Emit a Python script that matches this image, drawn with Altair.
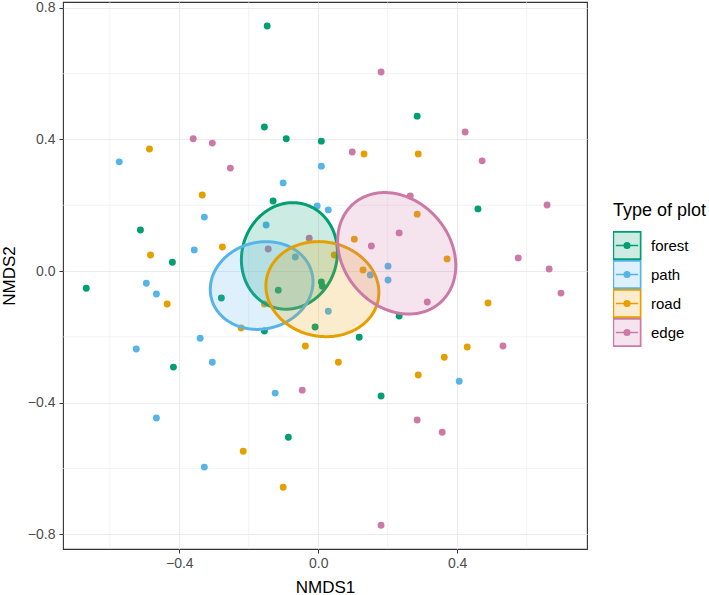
import numpy as np
import pandas as pd
import altair as alt

# Plot types, their colours and the pale key fills (colour at 20% over white)
groups = ["forest", "path", "road", "edge"]
colors = ["#009E73", "#56B4E9", "#E69F00", "#CC79A7"]
key_fills = ["#CCECE3", "#DDF0FB", "#FAECCC", "#F5E4ED"]

# NMDS site scores per plot type
forest_x = [-0.147, -0.155, -0.092, 0.009, 0.285, 0.460, -0.130, -0.512, -0.420, -0.668,
            -0.417, -0.086, 0.181, 0.118, 0.233, -0.155, -0.115, -0.279, -0.009, 0.009, 0.012]
forest_y = [0.745, 0.438, 0.402, 0.395, 0.471, 0.189, 0.213, 0.125, 0.027, -0.052,
            -0.292, -0.505, -0.380, -0.201, -0.137, -0.182, -0.058, -0.082, -0.170, -0.033, -0.046]

path_x = [-0.573, 0.009, -0.101, -0.003, 0.029, -0.328, -0.150, -0.357, -0.066, 0.201, 0.201,
          0.150, 0.029, -0.495, -0.466, -0.340, -0.524, -0.305, -0.124, 0.406, -0.466, -0.328]
path_y = [0.332, 0.319, 0.268, 0.198, 0.186, 0.164, 0.140, 0.064, 0.043, 0.015, -0.027,
          -0.012, -0.122, -0.037, -0.070, -0.204, -0.237, -0.277, -0.371, -0.335, -0.447, -0.596]

road_x = [-0.486, 0.132, 0.288, -0.334, 0.285, 0.104, -0.276, 0.046, 0.371, -0.483, 0.129,
          -0.435, -0.155, 0.489, -0.222, -0.037, 0.429, 0.363, 0.058, 0.288, -0.216, -0.101]
road_y = [0.371, 0.356, 0.356, 0.231, 0.173, 0.097, 0.073, 0.049, 0.037, 0.049, 0.003,
          -0.100, -0.100, -0.097, -0.173, -0.228, -0.231, -0.262, -0.277, -0.316, -0.548, -0.657]

edge_x = [0.181, 0.423, 0.472, -0.360, -0.305, -0.253, 0.098, 0.265, 0.659, 0.233, -0.026,
          0.153, -0.144, 0.576, 0.665, 0.699, 0.314, 0.532, -0.046, 0.285, 0.357, 0.181]
edge_y = [0.605, 0.423, 0.335, 0.402, 0.389, 0.313, 0.362, 0.228, 0.201, 0.116, 0.100,
          0.076, 0.067, 0.040, 0.006, -0.067, -0.094, -0.228, -0.362, -0.453, -0.490, -0.773]

# Group ellipses: centre, semi-axes and rotation (degrees)
ell_cx = [-0.083, -0.163, 0.012, 0.226]
ell_cy = [0.046, -0.044, -0.055, 0.054]
ell_a = [0.163, 0.150, 0.164, 0.196]
ell_b = [0.137, 0.131, 0.143, 0.157]
ell_deg = [78, 20, -15, -56]

# Axis ticks and minor grid positions
x_ticks = [-0.4, 0.0, 0.4]
y_ticks = [-0.8, -0.4, 0.0, 0.4, 0.8]
x_minor = [-0.6, -0.2, 0.2, 0.6]
y_minor = [-0.6, -0.2, 0.2, 0.6]
x_domain = [-0.735, 0.774]
y_domain = [-0.845, 0.818]

pts = pd.concat([
    pd.DataFrame({"NMDS1": xs, "NMDS2": ys, "type": g})
    for g, xs, ys in [("forest", forest_x, forest_y), ("path", path_x, path_y),
                      ("road", road_x, road_y), ("edge", edge_x, edge_y)]
], ignore_index=True)


def ellipse_band(cx, cy, a, b, deg, n=240):
    """Upper and lower boundary of a rotated ellipse, sampled along x."""
    t = np.deg2rad(deg)
    A = np.cos(t) ** 2 / a ** 2 + np.sin(t) ** 2 / b ** 2
    B = 2 * np.cos(t) * np.sin(t) * (1 / a ** 2 - 1 / b ** 2)
    C = np.sin(t) ** 2 / a ** 2 + np.cos(t) ** 2 / b ** 2
    w = np.sqrt(4 * C / (4 * A * C - B ** 2))
    dx = w * np.cos(np.linspace(np.pi, 0, n))
    disc = np.clip(B ** 2 * dx ** 2 - 4 * C * (A * dx ** 2 - 1), 0, None)
    r1 = (-B * dx + np.sqrt(disc)) / (2 * C)
    r2 = (-B * dx - np.sqrt(disc)) / (2 * C)
    return cx + dx, cy + np.maximum(r1, r2), cy + np.minimum(r1, r2)


ell = pd.concat([
    pd.DataFrame(dict(zip(["NMDS1", "NMDS2", "lower"],
                          ellipse_band(cx, cy, a, b, d)))).assign(type=g)
    for g, cx, cy, a, b, d in zip(groups, ell_cx, ell_cy, ell_a, ell_b, ell_deg)
], ignore_index=True)

key_df = pd.DataFrame({"type": groups, "NMDS1": ell_cx, "NMDS2": ell_cy})

xs = alt.Scale(domain=x_domain, nice=False, zero=False)
ys = alt.Scale(domain=y_domain, nice=False, zero=False)
cs = alt.Scale(domain=groups, range=colors)
ks = alt.Scale(domain=groups, range=key_fills)
x_axis = alt.Axis(values=x_ticks, format=".1f", title="NMDS1")
y_axis = alt.Axis(values=y_ticks, format=".1f", title="NMDS2")

# Legend key: framed box, a horizontal line and a solid dot (built from rings)
ring = "M{r},0A{r},{r},0,1,1,-{r},0A{r},{r},0,1,1,{r},0Z"
key_path = ("M-1.05,-1.05H1.05V1.05H-1.05Z M-0.86,0H0.86 "
            + " ".join(ring.format(r=r) for r in (0.07, 0.146, 0.21)))

key_legend = alt.Legend(
    title="Type of plot", orient="none", legendX=550, legendY=200,
    symbolType=key_path, symbolSize=676, symbolStrokeWidth=1.7,
    clipHeight=29, rowPadding=0, padding=0, titlePadding=11, labelOffset=10,
    titleFontSize=18, titleFontWeight="normal", titleColor="#000000",
    labelFontSize=15, labelColor="#000000",
    titleFont="Liberation Sans", labelFont="Liberation Sans",
)

vgrid = alt.Chart(pd.DataFrame({"NMDS1": x_minor})).mark_rule(
    color="#EBEBEB", strokeWidth=0.6).encode(x=alt.X("NMDS1:Q", scale=xs, axis=x_axis))
hgrid = alt.Chart(pd.DataFrame({"NMDS2": y_minor})).mark_rule(
    color="#EBEBEB", strokeWidth=0.6).encode(y=alt.Y("NMDS2:Q", scale=ys, axis=y_axis))

points = alt.Chart(pts).mark_circle(size=48, opacity=1).encode(
    x=alt.X("NMDS1:Q", scale=xs, axis=x_axis),
    y=alt.Y("NMDS2:Q", scale=ys, axis=y_axis),
    color=alt.Color("type:N", scale=cs, legend=None),
)

ellipses = alt.Chart(ell).mark_area(fillOpacity=0.2, strokeOpacity=1, strokeWidth=3).encode(
    x=alt.X("NMDS1:Q", scale=xs, axis=x_axis),
    y=alt.Y("NMDS2:Q", scale=ys, axis=y_axis),
    y2="lower:Q",
    fill=alt.Fill("type:N", scale=cs, legend=None),
    stroke=alt.Stroke("type:N", scale=cs, legend=None),
)

# Invisible marks that carry the combined legend
keys = alt.Chart(key_df).mark_point(filled=True, fillOpacity=0, strokeOpacity=0).encode(
    x=alt.X("NMDS1:Q", scale=xs, axis=x_axis),
    y=alt.Y("NMDS2:Q", scale=ys, axis=y_axis),
    fill=alt.Fill("type:N", scale=ks, legend=key_legend),
    stroke=alt.Stroke("type:N", scale=cs, legend=key_legend),
)

chart = (
    alt.layer(vgrid, hgrid, points, ellipses, keys)
    .resolve_scale(fill="independent", stroke="independent")
    .properties(
        width=524, height=547,
        autosize=alt.AutoSizeParams(type="none"),
        padding={"left": 63, "top": 2, "right": 122, "bottom": 46},
    )
    .configure_view(stroke="#333333", strokeWidth=1.1)
    .configure_axis(
        grid=True, gridColor="#EBEBEB", gridWidth=1.1, domain=False,
        ticks=True, tickSize=4, tickColor="#333333", tickWidth=1,
        labelFont="Liberation Sans", labelFontSize=14, labelColor="#4D4D4D",
        titleFont="Liberation Sans", titleFontSize=17, titleFontWeight="normal",
        titleColor="#000000",
    )
    .configure_axisX(titlePadding=9, labelPadding=3)
    .configure_axisY(titlePadding=9, labelPadding=4)
)

chart.save("out.html", embed_options={"renderer": "svg", "actions": False})
